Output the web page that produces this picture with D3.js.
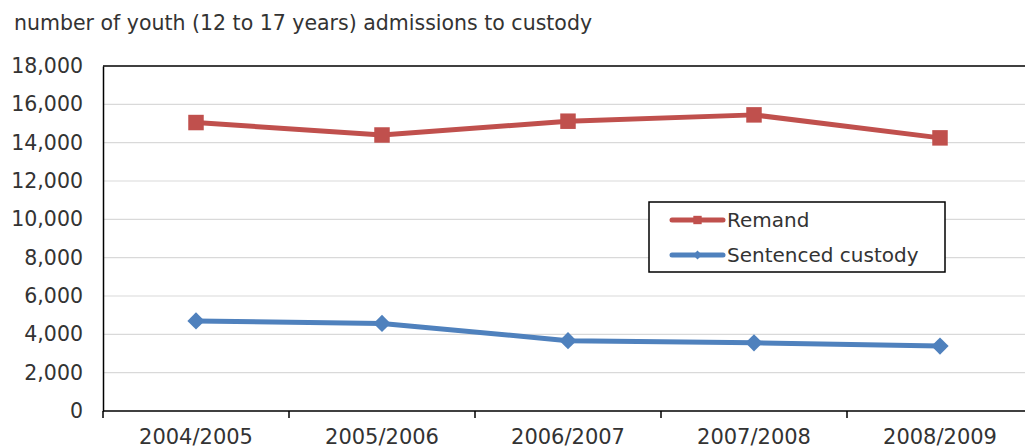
<!DOCTYPE html>
<html>
<head>
<meta charset="utf-8">
<script src="https://cdn.jsdelivr.net/npm/d3@7"></script>
<style>
  html, body { margin: 0; padding: 0; background: #fff; }
  svg { display: block; font-family: "DejaVu Sans", Verdana, sans-serif; }
</style>
</head>
<body>
<svg id="chart" width="1025" height="448"></svg>
<script>
// Youth admissions to custody, by fiscal year
const categories = ["2004/2005", "2005/2006", "2006/2007", "2007/2008", "2008/2009"];
const remand = [15050, 14400, 15120, 15450, 14250];
const sentenced = [4700, 4570, 3670, 3560, 3390];
const yTicks = [0, 2000, 4000, 6000, 8000, 10000, 12000, 14000, 16000, 18000];
const seriesNames = ["Remand", "Sentenced custody"];

const colors = { remand: "#c0504d", sentenced: "#4f81bd" };

const svg = d3.select("#chart");
const plot = { left: 103, top: 66, right: 1033, bottom: 411 };

const x = d3.scaleBand().domain(categories).range([plot.left, plot.right]).padding(0);
const y = d3.scaleLinear().domain([0, 18000]).range([plot.bottom, plot.top]);
const cx = d => x(d) + x.bandwidth() / 2;

// Title
svg.append("text")
  .attr("x", 14).attr("y", 30)
  .attr("font-size", 20.5).attr("fill", "#333")
  .text("number of youth (12 to 17 years) admissions to custody");

// Horizontal gridlines
svg.append("g").selectAll("line")
  .data(yTicks.filter(t => t > 0 && t < 18000))
  .join("line")
  .attr("x1", plot.left).attr("x2", plot.right)
  .attr("y1", d => y(d)).attr("y2", d => y(d))
  .attr("stroke", "#d9d9d9").attr("stroke-width", 1.2);

// Plot area frame: top edge
svg.append("line")
  .attr("x1", plot.left).attr("x2", plot.right)
  .attr("y1", y(18000)).attr("y2", y(18000))
  .attr("stroke", "#000").attr("stroke-width", 1.5);

// Y axis
const yAxis = d3.axisLeft(y).tickValues(yTicks).tickFormat(d3.format(",")).tickSize(0).tickPadding(20);
const gy = svg.append("g").attr("transform", `translate(${plot.left},0)`).call(yAxis);
gy.select(".domain").attr("stroke", "#000").attr("stroke-width", 1.5);
gy.selectAll("text").attr("font-size", 20.5).attr("fill", "#333").attr("font-family", "DejaVu Sans, Verdana, sans-serif");

// X axis with ticks at category boundaries
const gx = svg.append("g").attr("transform", `translate(0,${plot.bottom})`);
gx.append("line")
  .attr("x1", plot.left).attr("x2", plot.right)
  .attr("stroke", "#000").attr("stroke-width", 1.5);
gx.selectAll("line.tick")
  .data(categories)
  .join("line").attr("class", "tick")
  .attr("x1", d => x(d)).attr("x2", d => x(d))
  .attr("y1", 0).attr("y2", 7)
  .attr("stroke", "#000").attr("stroke-width", 1.5);
gx.selectAll("text")
  .data(categories)
  .join("text")
  .attr("x", d => cx(d)).attr("y", 33)
  .attr("text-anchor", "middle")
  .attr("font-size", 21).attr("fill", "#333")
  .text(d => d);

// Series lines
const line = d3.line().x((d, i) => cx(categories[i])).y(d => y(d));

const diamond = {
  draw(ctx, size) {
    const r = Math.sqrt(size) / 1.6;
    ctx.moveTo(0, -r); ctx.lineTo(r, 0); ctx.lineTo(0, r); ctx.lineTo(-r, 0); ctx.closePath();
  }
};

function drawSeries(values, color, symbolType, size) {
  svg.append("path")
    .datum(values)
    .attr("d", line)
    .attr("fill", "none")
    .attr("stroke", color)
    .attr("stroke-width", 5)
    .attr("stroke-linejoin", "round");
  svg.append("g").selectAll("path")
    .data(values)
    .join("path")
    .attr("transform", (d, i) => `translate(${cx(categories[i])},${y(d)})`)
    .attr("d", d3.symbol().type(symbolType).size(size))
    .attr("fill", color);
}

drawSeries(remand, colors.remand, d3.symbolSquare, 240);
drawSeries(sentenced, colors.sentenced, diamond, 190);

// Legend
const legend = svg.append("g").attr("transform", "translate(649,202)");
legend.append("rect")
  .attr("width", 296).attr("height", 70)
  .attr("fill", "#fff").attr("stroke", "#000").attr("stroke-width", 1.5);
const legendItems = [
  { name: seriesNames[0], color: colors.remand, marker: d3.symbolSquare, size: 70 },
  { name: seriesNames[1], color: colors.sentenced, marker: diamond, size: 50 }
];
const li = legend.selectAll("g.item").data(legendItems).join("g")
  .attr("class", "item")
  .attr("transform", (d, i) => `translate(0,${18 + i * 35})`);
li.append("line")
  .attr("x1", 23).attr("x2", 74)
  .attr("stroke", d => d.color).attr("stroke-width", 5).attr("stroke-linecap", "round");
li.append("path")
  .attr("transform", "translate(48.5,0)")
  .attr("d", d => d3.symbol().type(d.marker).size(d.size)())
  .attr("fill", d => d.color);
li.append("text")
  .attr("x", 78).attr("y", 7)
  .attr("font-size", 20).attr("fill", "#333")
  .text(d => d.name);
</script>
</body>
</html>
